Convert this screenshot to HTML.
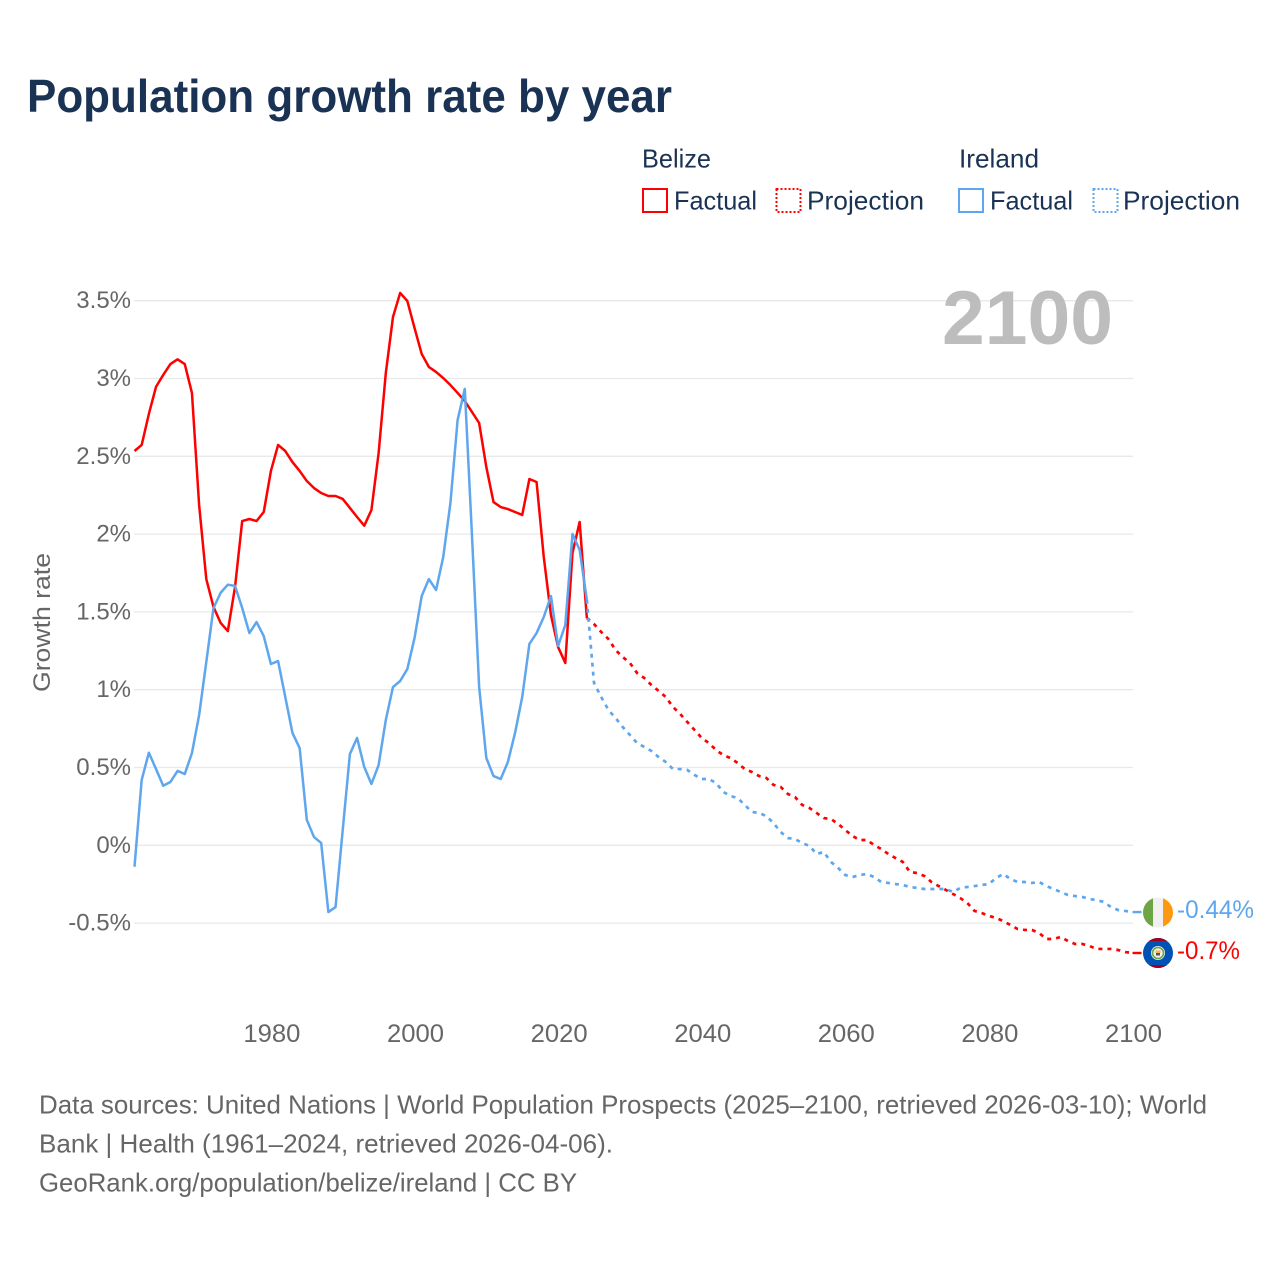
<!DOCTYPE html>
<html lang="en">
<head>
<meta charset="utf-8">
<title>Population growth rate by year</title>
<style>
  html, body { margin: 0; padding: 0; background: #fff; }
  svg { display: block; font-family: "Liberation Sans", sans-serif; }
</style>
</head>
<body>
<svg id="chart" xmlns="http://www.w3.org/2000/svg" width="1280" height="1280" viewBox="0 0 1280 1280">
  <rect x="0" y="0" width="1280" height="1280" fill="#ffffff"/>
  <text x="27" y="112" font-size="46" font-weight="700" fill="#1a3254" textLength="645" lengthAdjust="spacingAndGlyphs">Population growth rate by year</text>

  <g font-size="26" fill="#1a3254">
    <text x="642" y="167.5" textLength="69" lengthAdjust="spacingAndGlyphs">Belize</text>
    <rect x="643" y="189" width="24" height="23" fill="none" stroke="#ff0000" stroke-width="2"/>
    <text x="674" y="209.5" textLength="83" lengthAdjust="spacingAndGlyphs">Factual</text>
    <rect x="776.5" y="189" width="24" height="23" fill="none" stroke="#ff0000" stroke-width="2" stroke-dasharray="2 2"/>
    <text x="807" y="209.5" textLength="117" lengthAdjust="spacingAndGlyphs">Projection</text>
    <text x="959" y="167.5" textLength="80" lengthAdjust="spacingAndGlyphs">Ireland</text>
    <rect x="959" y="189" width="24" height="23" fill="none" stroke="#5ea6ee" stroke-width="2"/>
    <text x="990" y="209.5" textLength="83" lengthAdjust="spacingAndGlyphs">Factual</text>
    <rect x="1093.5" y="189" width="24" height="23" fill="none" stroke="#5ea6ee" stroke-width="2" stroke-dasharray="2 2"/>
    <text x="1123" y="209.5" textLength="117" lengthAdjust="spacingAndGlyphs">Projection</text>
  </g>

  <g id="grid"></g>
  <g id="yaxis"></g>
  <g id="xaxis"></g>
  <text transform="translate(50 692) rotate(-90)" font-size="24.5" fill="#666666" textLength="139" lengthAdjust="spacingAndGlyphs">Growth rate</text>
  <text x="942" y="344" font-size="76" font-weight="700" fill="#bdbdbd" textLength="171" lengthAdjust="spacingAndGlyphs">2100</text>

  <g id="series"></g>

  <defs>
    <clipPath id="clip-ireland"><circle cx="1158" cy="912.5" r="15"/></clipPath>
    <clipPath id="clip-belize"><circle cx="1158" cy="953" r="15"/></clipPath>
  </defs>
  <g clip-path="url(#clip-ireland)">
    <rect x="1143" y="897" width="11" height="31" fill="#6da544"/>
    <rect x="1153" y="897" width="10" height="31" fill="#f0f0f0"/>
    <rect x="1163" y="897" width="10" height="31" fill="#ff9811"/>
  </g>
  <g clip-path="url(#clip-belize)">
    <rect x="1143" y="938" width="30" height="30" fill="#0052b4"/>
    <rect x="1143" y="937" width="30" height="4" fill="#a2001d"/>
    <rect x="1143" y="965" width="30" height="4" fill="#a2001d"/>
    <circle cx="1158" cy="953" r="7" fill="#f0f0f0"/>
    <circle cx="1158" cy="953" r="5.5" fill="none" stroke="#6da544" stroke-width="1.6"/>
    <rect x="1155.5" y="950.5" width="5" height="2.5" fill="#ffb14e"/>
    <rect x="1156" y="953" width="4" height="2.5" fill="#445a7a"/>
  </g>
  <text x="1177" y="918" font-size="25" fill="#5ea6ee" textLength="77" lengthAdjust="spacingAndGlyphs">-0.44%</text>
  <text x="1177" y="959" font-size="25" fill="#ff0000" textLength="63" lengthAdjust="spacingAndGlyphs">-0.7%</text>

  <g font-size="26" fill="#666666">
    <text x="39" y="1113.5" textLength="1168" lengthAdjust="spacingAndGlyphs">Data sources: United Nations | World Population Prospects (2025–2100, retrieved 2026-03-10); World</text>
    <text x="39" y="1152.5" textLength="574" lengthAdjust="spacingAndGlyphs">Bank | Health (1961–2024, retrieved 2026-04-06).</text>
    <text x="39" y="1191.5" textLength="538" lengthAdjust="spacingAndGlyphs">GeoRank.org/population/belize/ireland | CC BY</text>
  </g>
</svg>

<script>
const yTickValues = [3.5, 3, 2.5, 2, 1.5, 1, 0.5, 0, -0.5];
const yTickLabels = ["3.5%", "3%", "2.5%", "2%", "1.5%", "1%", "0.5%", "0%", "-0.5%"];
const xTickYears = [1980, 2000, 2020, 2040, 2060, 2080, 2100];
const factualStartYear = 1961;
const projectionStartYear = 2024;

const belizeFactual = [2.534,2.573,2.772,2.947,3.023,3.093,3.123,3.093,2.907,2.187,1.711,1.532,1.429,1.377,1.660,2.084,2.097,2.084,2.142,2.406,2.573,2.534,2.463,2.406,2.341,2.296,2.264,2.245,2.245,2.226,2.168,2.110,2.054,2.155,2.521,3.035,3.395,3.550,3.498,3.325,3.158,3.074,3.042,3.003,2.958,2.907,2.855,2.785,2.714,2.431,2.206,2.174,2.161,2.142,2.123,2.354,2.335,1.853,1.480,1.274,1.172,1.879,2.078,1.461];

const belizeProjection = [1.461,1.422,1.371,1.326,1.255,1.210,1.172,1.107,1.075,1.030,0.992,0.953,0.889,0.844,0.792,0.741,0.690,0.657,0.612,0.580,0.561,0.529,0.490,0.471,0.445,0.433,0.388,0.375,0.330,0.310,0.259,0.240,0.208,0.175,0.169,0.137,0.098,0.060,0.034,0.034,0.002,-0.024,-0.056,-0.082,-0.107,-0.172,-0.178,-0.197,-0.236,-0.262,-0.287,-0.313,-0.339,-0.371,-0.422,-0.435,-0.454,-0.467,-0.487,-0.512,-0.538,-0.544,-0.544,-0.564,-0.602,-0.602,-0.589,-0.615,-0.634,-0.634,-0.647,-0.666,-0.666,-0.666,-0.673,-0.686,-0.692];

const irelandFactual = [-0.138,0.420,0.595,0.490,0.383,0.407,0.478,0.458,0.593,0.837,1.178,1.525,1.623,1.675,1.667,1.525,1.364,1.435,1.345,1.165,1.184,0.953,0.722,0.625,0.163,0.053,0.015,-0.429,-0.397,0.098,0.587,0.690,0.503,0.394,0.516,0.805,1.017,1.056,1.133,1.332,1.602,1.711,1.641,1.853,2.200,2.733,2.933,1.994,1.017,0.561,0.445,0.426,0.535,0.722,0.953,1.294,1.364,1.467,1.602,1.281,1.416,2.001,1.898,1.577];

const irelandProjection = [1.577,1.043,0.953,0.870,0.818,0.760,0.709,0.657,0.632,0.606,0.567,0.535,0.490,0.490,0.484,0.452,0.426,0.426,0.400,0.343,0.317,0.304,0.259,0.214,0.208,0.188,0.143,0.085,0.047,0.040,0.015,-0.004,-0.056,-0.043,-0.107,-0.146,-0.191,-0.204,-0.191,-0.184,-0.204,-0.236,-0.242,-0.249,-0.255,-0.268,-0.274,-0.281,-0.281,-0.281,-0.281,-0.300,-0.274,-0.268,-0.262,-0.255,-0.249,-0.210,-0.184,-0.217,-0.236,-0.236,-0.242,-0.236,-0.262,-0.281,-0.300,-0.319,-0.326,-0.332,-0.345,-0.352,-0.364,-0.397,-0.416,-0.422,-0.429];

const SVG_NS = "http://www.w3.org/2000/svg";
const BELIZE_COLOR = "#ff0000";
const IRELAND_COLOR = "#5ea6ee";

function xScale(year) { return 134.5 + (year - 1961) * 7.18; }
function yScale(value) { return 845.3 - value * 155.6; }

function pointsFor(values, startYear) {
  return values.map(function (v, i) {
    return xScale(startYear + i).toFixed(2) + "," + yScale(v).toFixed(2);
  }).join(" ");
}

const grid = document.getElementById("grid");
const yAxis = document.getElementById("yaxis");
const xAxis = document.getElementById("xaxis");
const seriesGroup = document.getElementById("series");

yTickValues.forEach(function (v, i) {
  const line = document.createElementNS(SVG_NS, "line");
  
  
  line.setAttribute("x1", 134);
  line.setAttribute("x2", 1133);
  line.setAttribute("y1", yScale(v));
  line.setAttribute("y2", yScale(v));
  line.setAttribute("stroke", "#e9e9e9");
  line.setAttribute("stroke-width", "1.3");
  grid.appendChild(line);

  const label = document.createElementNS(SVG_NS, "text");
  
  
  label.setAttribute("x", 131);
  label.setAttribute("y", yScale(v) + 7.5);
  label.setAttribute("text-anchor", "end");
  label.setAttribute("font-size", "24");
  label.setAttribute("fill", "#666666");
  label.textContent = yTickLabels[i];
  yAxis.appendChild(label);
});

xTickYears.forEach(function (year) {
  const label = document.createElementNS(SVG_NS, "text");
  
  
  label.setAttribute("x", xScale(year) + 1);
  label.setAttribute("y", 1042);
  label.setAttribute("text-anchor", "middle");
  label.setAttribute("font-size", "25");
  label.setAttribute("fill", "#666666");
  label.setAttribute("textLength", "57");
  label.setAttribute("lengthAdjust", "spacingAndGlyphs");
  label.textContent = String(year);
  xAxis.appendChild(label);
});

function drawLine(values, startYear, color, dashed, name) {
  const line = document.createElementNS(SVG_NS, "polyline");
  
  
  line.setAttribute("points", pointsFor(values, startYear));
  line.setAttribute("fill", "none");
  line.setAttribute("stroke", color);
  line.setAttribute("stroke-width", dashed ? "2.7" : "2.5");
  line.setAttribute("stroke-linejoin", "round");
  if (dashed) { line.setAttribute("stroke-dasharray", "4 5"); }
  seriesGroup.appendChild(line);
}

function drawConnector(values, startYear, color, name) {
  const lastYear = startYear + values.length - 1;
  const lastValue = values[values.length - 1];
  const line = document.createElementNS(SVG_NS, "line");
  
  
  line.setAttribute("x1", xScale(lastYear));
  line.setAttribute("x2", xScale(lastYear) + 9);
  line.setAttribute("y1", yScale(lastValue));
  line.setAttribute("y2", yScale(lastValue));
  line.setAttribute("stroke", color);
  line.setAttribute("stroke-width", "2.4");
  seriesGroup.appendChild(line);
}

drawLine(belizeFactual, factualStartYear, BELIZE_COLOR, false, "belize-factual-line");
drawLine(belizeProjection, projectionStartYear, BELIZE_COLOR, true, "belize-projection-line");
drawConnector(belizeProjection, projectionStartYear, BELIZE_COLOR, "belize-end-connector");
drawLine(irelandFactual, factualStartYear, IRELAND_COLOR, false, "ireland-factual-line");
drawLine(irelandProjection, projectionStartYear, IRELAND_COLOR, true, "ireland-projection-line");
drawConnector(irelandProjection, projectionStartYear, IRELAND_COLOR, "ireland-end-connector");
</script>
</body>
</html>
